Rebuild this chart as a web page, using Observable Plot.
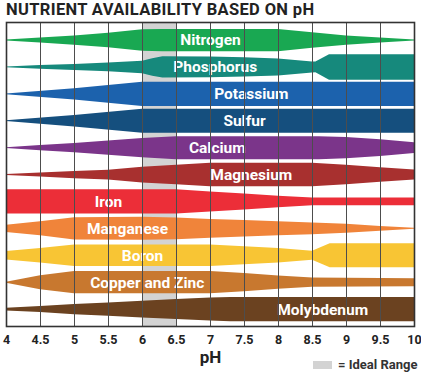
<!DOCTYPE html>
<html><head><meta charset="utf-8">
<script src="https://cdn.jsdelivr.net/npm/d3@7"></script>
<script src="https://cdn.jsdelivr.net/npm/@observablehq/plot@0.6"></script>
<style>
body{margin:0;background:#fff;font-family:Roboto,"Liberation Sans",sans-serif;}
#wrap{position:relative;width:421px;height:373px;overflow:hidden;}
#title{height:20px;padding-left:6px;font-weight:700;font-size:16.5px;letter-spacing:0.35px;line-height:20px;color:#222;white-space:nowrap;}
#legend{position:absolute;left:313px;top:358px;display:flex;align-items:center;font-weight:700;font-size:13px;color:#333;line-height:13px;white-space:nowrap;}
#legend .sw{display:inline-block;width:19px;height:8px;background:#d3d3d3;margin-right:6px;}
</style></head>
<body><div id="wrap"><div id="title">NUTRIENT AVAILABILITY BASED ON pH</div><div id="chart"></div><div id="legend"><span class="sw"></span><span>= Ideal Range</span></div></div>
<script>
const nutrients = ["Nitrogen","Phosphorus","Potassium","Sulfur","Calcium","Magnesium","Iron","Manganese","Boron","Copper and Zinc","Molybdenum"];
const colors = ["#19a852","#16897c","#1c62ad","#154f7e","#7b358a","#a8302f","#ec2e38","#f0843a","#f8c534","#c8782f","#6b4220"];
const labelPH = [7.0, 7.07, 7.6, 7.5, 7.1, 7.6, 5.5, 5.78, 6.0, 6.07, 8.65];
const xTicks = [4,4.5,5,5.5,6,6.5,7,7.5,8,8.5,9,9.5,10];
const idealRange = [6, 6.5];

// availability profiles: [pH, relative availability]
const nitrogen = [[4,0.04],[4.5,0.2],[5,0.38],[5.5,0.6],[6,0.88],[6.3,0.92],[8,0.92],[8.5,0.64],[9,0.38],[9.5,0.2],[10,0.04]];
const phosphorus = [[4,0.03],[4.5,0.16],[5,0.25],[5.5,0.36],[6,0.52],[6.15,0.72],[6.3,0.88],[7,0.86],[7.5,0.8],[8,0.7],[8.5,0.45],[8.55,0.44],[8.75,1.05],[10,1.05]];
const potassium = [[4,0.03],[5,0.47],[6,1],[10,1]];
const sulfur = [[4,0.03],[5,0.47],[6,1],[10,1]];
const calcium = [[4,0.04],[4.5,0.22],[5,0.38],[5.5,0.58],[6,0.8],[6.5,0.95],[8.6,0.95],[9,0.88],[9.5,0.7],[10,0.45]];
const magnesium = [[4,0.04],[4.5,0.17],[5,0.3],[5.5,0.4],[6,0.65],[6.5,0.8],[7,0.97],[8.5,0.97],[9,0.8],[9.5,0.6],[10,0.42]];
const iron = [[4,1],[6.5,1],[7,0.83],[7.5,0.66],[8,0.48],[8.5,0.32],[10,0.32]];
const manganese = [[4,0.3],[4.5,0.58],[5,0.92],[6,0.95],[6.5,0.9],[7,0.78],[7.5,0.68],[8,0.58],[8.5,0.48],[9,0.37],[9.5,0.2],[10,0.04]];
const boron = [[4,0.35],[4.5,0.6],[5,0.88],[7,0.88],[7.5,0.75],[8,0.6],[8.5,0.38],[8.76,1.0],[10,1.0]];
const copperZinc = [[4,0.04],[4.5,0.58],[5,0.92],[7,0.92],[7.5,0.75],[8,0.55],[8.5,0.38],[10,0.33]];
const molybdenum = [[4,0.11],[4.5,0.25],[5,0.42],[5.5,0.55],[6,0.69],[6.5,0.82],[7,0.95],[7.3,1],[10,1]];
const profiles = [nitrogen,phosphorus,potassium,sulfur,calcium,magnesium,iron,manganese,boron,copperZinc,molybdenum];

const H = 0.45;
const table = profiles.flatMap((p, i) => p.map(([ph, w]) => ({nutrient: nutrients[i], row: i, pH: ph, w})));
const labels = nutrients.map((n, i) => ({nutrient: n, row: i, pH: labelPH[i]}));

const chart = Plot.plot({
  width: 421, height: 353,
  marginTop: 2, marginBottom: 47, marginLeft: 6, marginRight: 7,
  style: {fontFamily: "Roboto, sans-serif", background: "#fff"},
  x: {domain: [4, 10], axis: null},
  y: {domain: [10.63, -0.67], axis: null},
  color: {domain: nutrients, range: colors},
  marks: [
    Plot.rect([idealRange], {x1: d => d[0], x2: d => d[1], fill: "#d3d3d3"}),
    Plot.areaY(table, {x: "pH", y1: d => d.row - d.w * H, y2: d => d.row + d.w * H, z: "nutrient", fill: "nutrient", curve: "linear"}),
    Plot.text(labels, {x: "pH", y: "row", text: "nutrient", fill: "white", fontWeight: "bold", fontSize: 15.5}),
    Plot.ruleX(xTicks, {stroke: "#4d4d4d", strokeWidth: 1}),
    Plot.frame({stroke: "#333", strokeWidth: 1.6}),
    Plot.axisX(xTicks, {tickSize: 0, tickPadding: 9, fontSize: 12.5, fontWeight: "bold", color: "#222", tickFormat: d => String(d), label: null}),
    Plot.text(["pH"], {x: [7], frameAnchor: "bottom", dy: 36, text: d => d, fontSize: 17, fontWeight: "bold", fill: "#222"})
  ]
});
document.getElementById("chart").append(chart);
</script></body></html>
